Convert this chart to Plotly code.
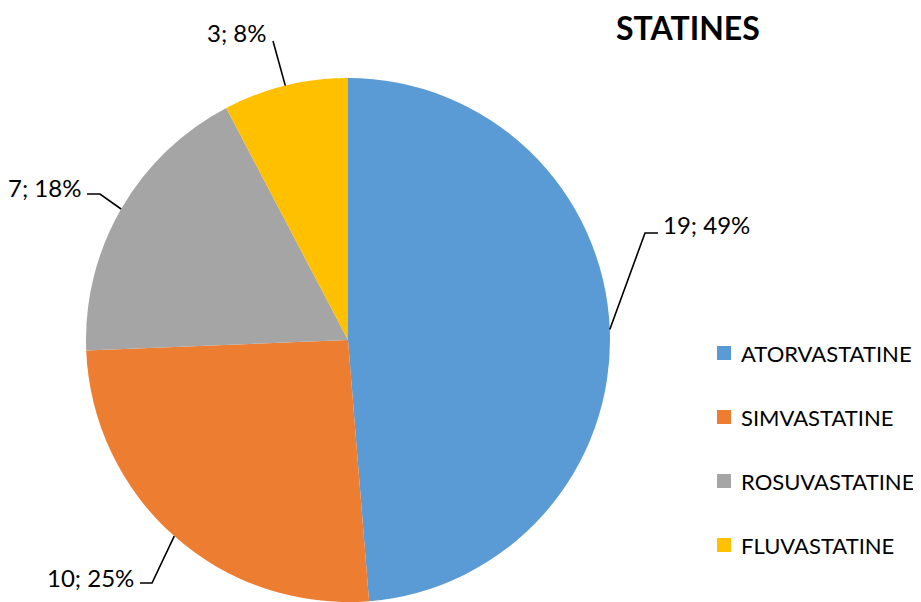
import math
import plotly.graph_objects as go

# ---- data ----
categories = ["ATORVASTATINE", "SIMVASTATINE", "ROSUVASTATINE", "FLUVASTATINE"]
values = [19, 10, 7, 3]
pct_labels = ["49%", "25%", "18%", "8%"]
colors = ["#5B9BD5", "#ED7D31", "#A5A5A5", "#FFC000"]
title_text = "STATINES"

# ---- layout constants (screen pixels) ----
OFF = 8                      # default page body margin
W, H = 921 - OFF, 602 - OFF  # figure size
CX, CY, R = 348, 340, 262
FONT = "Lato"

# label placement: (elbow x, elbow y, end x, end y, text x, text y, anchor)
label_pos = [
    (645, 233, 658, 233, 661, 225, "left"),
    (152, 583, 140, 583, 136, 577, "right"),
    (100, 194, 87, 194, 83, 188, "right"),
    (273, 41, 273, 41, 269, 33, "right"),
]
legend_x, legend_y0, legend_dy, sq = 717, 353, 64, 14


def paper(x, y):
    return (x - OFF) / W, 1 - (y - OFF) / H


fig = go.Figure()
fig.add_trace(go.Pie(
    labels=categories, values=values, sort=False, direction="clockwise",
    rotation=0, marker=dict(colors=colors, line=dict(width=0)),
    textinfo="none", hoverinfo="label+value+percent", showlegend=False,
    domain=dict(x=[(CX - R - OFF) / W, (CX + R - OFF) / W],
                y=[max(0, 1 - (CY + R - OFF) / H), 1 - (CY - R - OFF) / H]),
))

shapes, annotations = [], []
total = sum(values)
cum = 0
for i, v in enumerate(values):
    mid = (cum + v / 2) / total * 2 * math.pi
    cum += v
    ex, ey = CX + R * math.sin(mid), CY - R * math.cos(mid)
    bx, by, fx, fy, tx, ty, anc = label_pos[i]
    p0, p1, p2 = paper(ex, ey), paper(bx, by), paper(fx, fy)
    shapes.append(dict(type="path", xref="paper", yref="paper",
                       path=f"M {p0[0]} {p0[1]} L {p1[0]} {p1[1]} L {p2[0]} {p2[1]}",
                       line=dict(color="black", width=1.6)))
    tp = paper(tx, ty)
    annotations.append(dict(x=tp[0], y=tp[1], xref="paper", yref="paper",
                            text=f"{v}; {pct_labels[i]}", showarrow=False,
                            xanchor=anc, yanchor="middle",
                            font=dict(family=FONT, size=24, color="#000000")))
    # legend entry
    ly = legend_y0 + i * legend_dy
    a0, a1 = paper(legend_x, ly - sq / 2), paper(legend_x + sq, ly + sq / 2)
    shapes.append(dict(type="rect", xref="paper", yref="paper",
                       x0=a0[0], y0=a1[1], x1=a1[0], y1=a0[1],
                       fillcolor=colors[i], line=dict(width=0)))
    lp = paper(legend_x + sq + 8, ly)
    annotations.append(dict(x=lp[0], y=lp[1], xref="paper", yref="paper",
                            text=categories[i], showarrow=False,
                            xanchor="left", yanchor="middle",
                            font=dict(family=FONT, size=22, color="#000000")))

tpos = paper(688, 27)
annotations.append(dict(x=tpos[0], y=tpos[1], xref="paper", yref="paper",
                        text=f"<b>{title_text}</b>", showarrow=False,
                        xanchor="center", yanchor="middle",
                        font=dict(family=FONT, size=32, color="#000000")))

fig.update_layout(width=W, height=H, margin=dict(l=0, r=0, t=0, b=0),
                  paper_bgcolor="white", plot_bgcolor="white",
                  shapes=shapes, annotations=annotations, showlegend=False)
fig.write_html("out.html")
